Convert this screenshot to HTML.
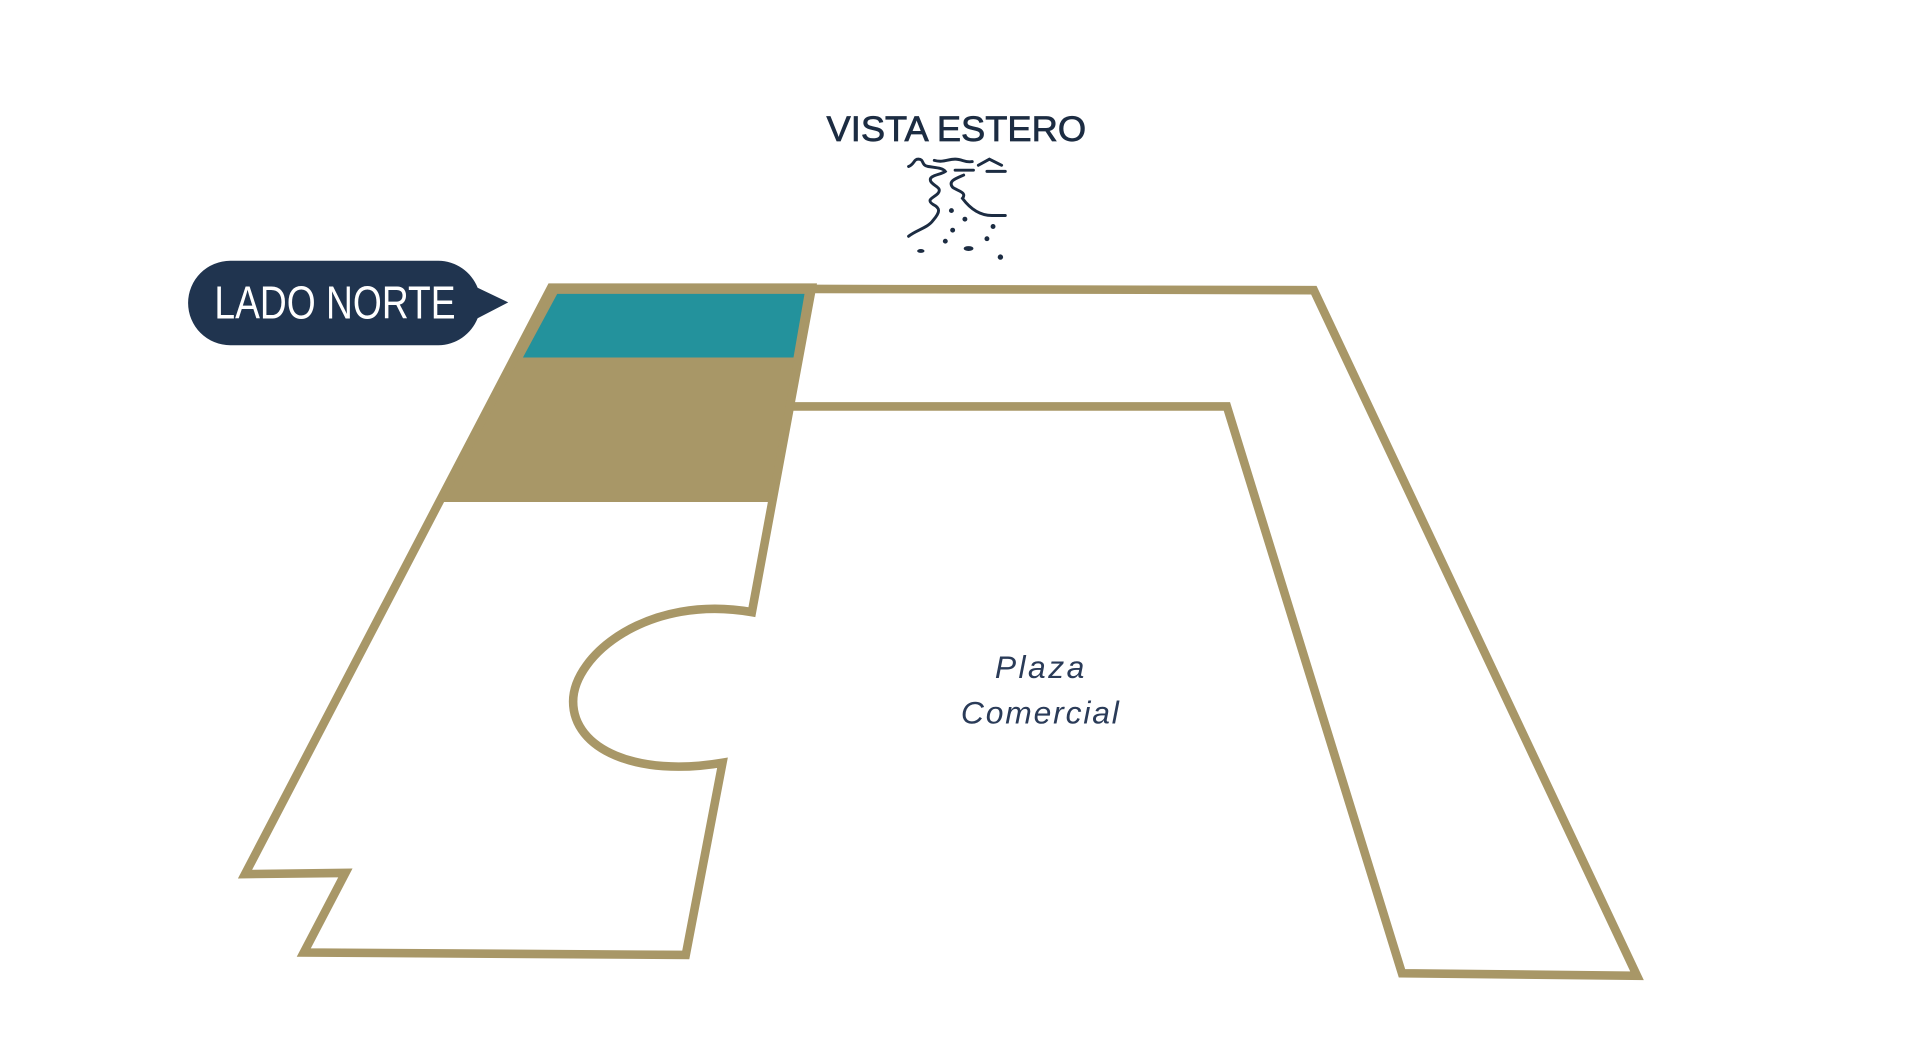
<!DOCTYPE html>
<html><head><meta charset="utf-8"><style>
html,body{margin:0;padding:0;background:#fff;}
svg{display:block;}
</style></head><body>
<svg width="1920" height="1059" viewBox="0 0 1568 865" xmlns="http://www.w3.org/2000/svg">
<rect width="1568" height="865" fill="#fff"/>
<polygon points="450,235 663,235 628,410 362,410" fill="#a89767"/>
<polygon points="455,240 657,240 648,292 427,292" fill="#23929c"/>
<g fill="none" stroke="#a89767" stroke-width="7" stroke-linejoin="miter">
<path d="M663,236 L1073,237 L1337,797 L1145,795 L1002,332 L648,332"/>
<path d="M450,235 L663,235 L614,500 C530,485 468,535 468,573 C468,612 520,635 590,623 L560,780 L248,778 L282,713 L200,714 Z"/>
</g>
<path d="M188,213 L358,213 A35,35 0 0 1 390,235 L415,247 L390,260 A35,35 0 0 1 358,282 L188,282 A34.5,34.5 0 0 1 188,213 Z" fill="#20344f"/>
<text x="175" y="260" fill="#fff" font-family="'Liberation Sans Narrow','Liberation Sans',sans-serif" font-size="38" textLength="197" lengthAdjust="spacingAndGlyphs">LADO NORTE</text>
<text x="675" y="115" fill="#1c2c42" stroke="#1c2c42" stroke-width="0.6" font-family="'Liberation Sans',sans-serif" font-size="29" textLength="212" lengthAdjust="spacingAndGlyphs">VISTA ESTERO</text>
<text x="850" y="554" text-anchor="middle" fill="#2a3b58" font-family="'Liberation Sans',sans-serif" font-style="italic" font-size="26" letter-spacing="2">Plaza</text>
<text x="850" y="591" text-anchor="middle" fill="#2a3b58" font-family="'Liberation Sans',sans-serif" font-style="italic" font-size="26" letter-spacing="1.5">Comercial</text>
<g fill="none" stroke="#1c2c42" stroke-width="2.4" stroke-linecap="round">
<path d="M742,136 C747,134 746,130 750,130 C755,130 752,135 758,136 C764,137 770,137 772,140 C768,143 758,143 760,148 C762,152 770,153 766,158 C762,162 756,163 762,167 C768,170 768,173 762,180 C758,186 748,188 742,193"/>
<path d="M763,131 C770,133 774,130 780,130 C786,130 788,133 794,132"/>
<path d="M780,139 L795,139 M787,143 C780,146 774,148 778,153 C782,156 790,157 786,162 C792,170 800,176 810,176 L821,176"/>
<path d="M799,135 L808,130 L818,135 M806,140 L821,140"/>
</g>
<g fill="#1c2c42">
<circle cx="777" cy="172" r="2"/><circle cx="788" cy="179" r="2"/><circle cx="778" cy="188" r="2"/>
<circle cx="811" cy="185" r="2"/><circle cx="806" cy="195" r="2"/><circle cx="772" cy="197" r="2"/>
<ellipse cx="791" cy="203" rx="4" ry="2"/><ellipse cx="752" cy="205" rx="3" ry="1.6"/><circle cx="817" cy="210" r="2.2"/>
</g>
</svg>
</body></html>
